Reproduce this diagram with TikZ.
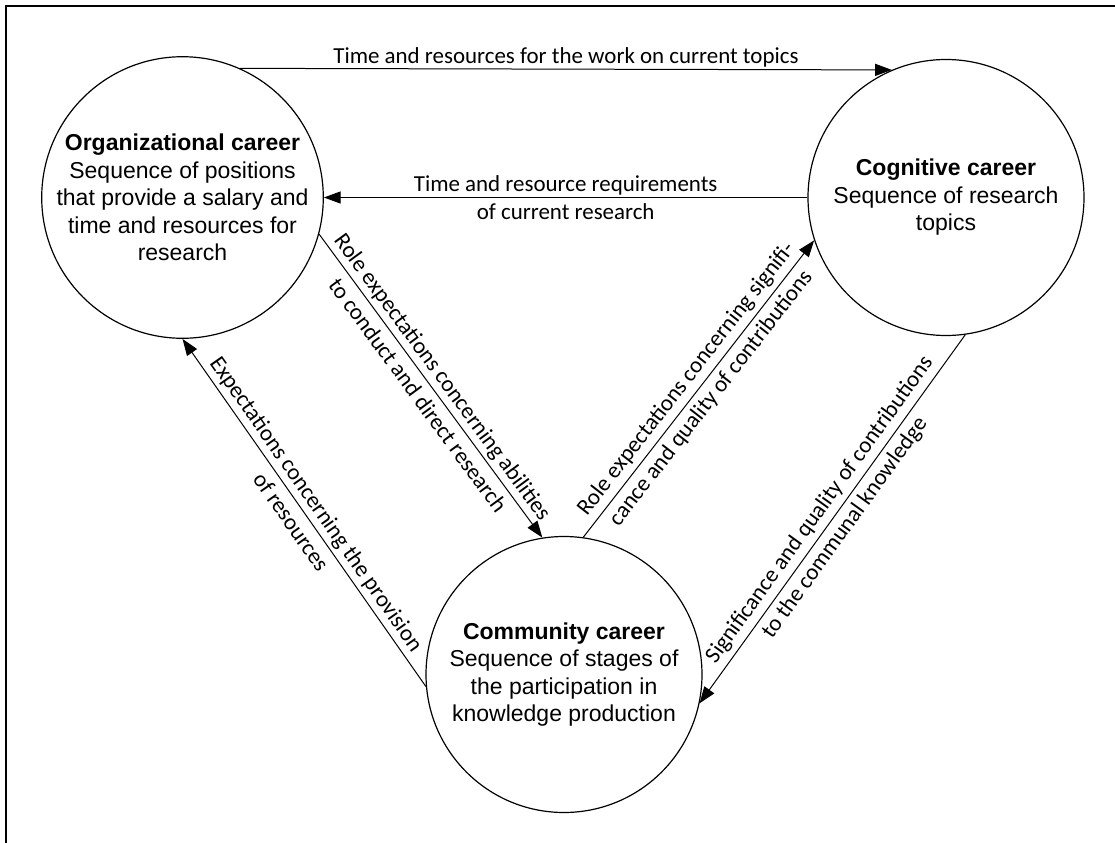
\documentclass[tikz,border=0pt]{standalone}
\usepackage{fontspec}
\setmainfont{Liberation Sans}
\newfontfamily\lblfont{Carlito}
\usetikzlibrary{arrows.meta}
\begin{document}
\begin{tikzpicture}[x=0.75pt,y=-0.75pt,
  career/.style={circle, draw, line width=0.9pt, minimum size=207pt, inner sep=0pt, align=center,
    font=\fontsize{17.25}{20.6}\selectfont},
  flow/.style={draw, line width=0.75pt, -{Triangle[length=12.5pt,width=9pt]}},
  lbl/.style={font=\lblfont\fontsize{17.2}{21.5}\selectfont, align=center, inner sep=0pt},
  slbl/.style={font=\lblfont\fontsize{17.2}{23.5}\selectfont, align=center, inner sep=0pt, sloped}]
\useasboundingbox (0,0) rectangle (1115,843);
\draw[line width=1.7pt] (1120,6.3) -- (6.3,6.3) -- (6.3,850);

\node[career] (org) at (182.5,197.5) {\textbf{Organizational career}\\Sequence of positions\\that provide a salary and\\time and resources for\\research};
\node[career] (cog) at (946,197.5) {\textbf{Cognitive career}\\Sequence of research\\topics};
\node[career] (com) at (564,674.5) {\textbf{Community career}\\Sequence of stages of\\the participation in\\knowledge production};

\draw[flow] (org.66.5) -- node[lbl, above=1pt] {Time and resources for the work on current topics} (cog.113.5);
\draw[flow] (cog.west) -- node[lbl] {Time and resource requirements\\of current research} (org.east);
\draw[flow] (org.-15.7) -- node[slbl] {Role expectations concerning abilities\\to conduct and direct research} (com.99.6);
\draw[flow] (com.82) -- node[slbl] {Role expectations concerning signifi-\\cance and quality of contributions} (cog.198.9);
\draw[flow] (cog.-82.8) -- node[slbl] {Significance and quality of contributions\\to the communal knowledge} (com.-12.5);
\draw[flow] (com.185.2) -- node[slbl] {Expectations concerning the provision\\of resources} (org.270);
\end{tikzpicture}
\end{document}
